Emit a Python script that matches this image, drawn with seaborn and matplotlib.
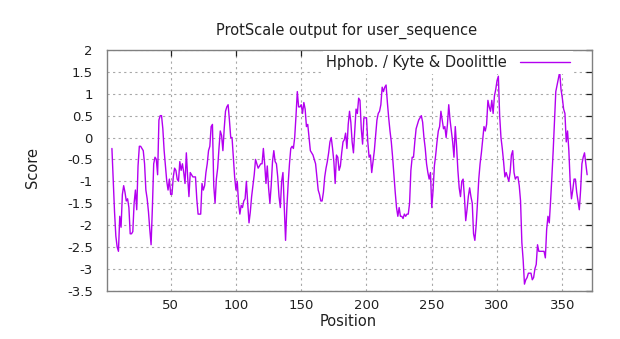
import matplotlib
matplotlib.use("Agg")
import matplotlib.pyplot as plt
import seaborn as sns
import pandas as pd

title = "ProtScale output for user_sequence"
series_label = "Hphob. / Kyte & Doolittle"
x_label = "Position"
y_label = "Score"

positions = list(range(5, 370))
scores = [
    -0.25, -1.0, -1.7, -2.25, -2.5, -2.6, -1.8, -2.05, -1.3, -1.1,
    -1.25, -1.45, -1.4, -1.6, -2.2, -2.2, -2.15, -1.5, -1.2, -1.65,
    -0.65, -0.2, -0.2, -0.25, -0.3, -0.6, -1.2, -1.4, -1.7, -2.1,
    -2.45, -1.6, -0.6, -0.45, -0.5, -0.85, 0.4, 0.5, 0.5, 0.2,
    -0.3, -0.65, -1.0, -1.2, -0.95, -1.3, -1.3, -0.9, -0.7, -0.75,
    -0.95, -1.0, -0.55, -0.75, -0.6, -0.8, -1.05, -0.35, -0.9, -1.35,
    -0.8, -0.85, -0.9, -0.9, -0.9, -1.4, -1.75, -1.75, -1.75, -1.05,
    -1.2, -1.1, -0.8, -0.6, -0.3, -0.2, 0.25, 0.3, -1.1, -1.5,
    -0.95, -0.7, -0.25, 0.15, 0.05, -0.3, 0.2, 0.6, 0.7, 0.75,
    0.4, 0.0, 0.0, -0.45, -0.9, -1.2, -1.0, -1.5, -1.75, -1.55,
    -1.6, -1.45, -1.4, -1.0, -1.5, -1.95, -1.7, -1.35, -1.1, -0.85,
    -0.5, -0.6, -0.7, -0.65, -0.6, -0.6, -0.25, -0.6, -1.05, -0.65,
    -1.15, -1.5, -1.1, -0.55, -0.3, -0.55, -0.6, -0.9, -1.35, -1.6,
    -1.0, -0.8, -1.6, -2.35, -1.6, -1.05, -0.6, -0.25, -0.2, -0.25,
    0.0, 0.5, 1.05, 0.7, 0.7, 0.75, 0.55, 0.8, 0.65, 0.25,
    0.3, 0.0, -0.3, -0.35, -0.4, -0.5, -0.6, -0.9, -1.2, -1.3,
    -1.45, -1.45, -1.25, -0.9, -0.7, -0.55, -0.35, -0.1, 0.0, -0.25,
    -0.55, -1.05, -0.4, -0.45, -0.75, -0.65, -0.35, -0.1, -0.05, 0.1,
    -0.25, 0.3, 0.6, 0.35, -0.1, -0.35, 0.15, 0.65, 0.55, 0.9,
    0.85, 0.2, -0.15, 0.45, 0.45, 0.45, -0.1, -0.45, -0.4, -0.8,
    -0.55, -0.3, 0.05, 0.4, 0.55, 0.6, 0.75, 1.15, 1.05, 1.15,
    1.2, 0.8, 0.45, 0.15, -0.1, -0.45, -0.85, -1.25, -1.6, -1.8,
    -1.6, -1.8, -1.8, -1.85, -1.75, -1.8, -1.75, -1.75, -1.5, -0.75,
    -0.45, -0.45, -0.1, 0.2, 0.3, 0.4, 0.45, 0.5, 0.35, 0.0,
    -0.25, -0.6, -0.8, -0.95, -0.8, -1.6, -1.2, -0.65, -0.4, -0.1,
    0.15, 0.25, 0.6, 0.4, 0.2, 0.25, 0.0, 0.3, 0.75, 0.4,
    0.15, -0.1, -0.45, 0.25, -0.2, -0.75, -1.15, -1.35, -1.0, -0.95,
    -1.35, -1.9, -1.65, -1.35, -1.15, -1.35, -1.5, -2.2, -2.35, -2.0,
    -1.5, -0.95, -0.6, -0.35, -0.05, 0.25, 0.15, 0.3, 0.85, 0.7,
    0.6, 0.85, 0.55, 0.95, 1.1, 1.3, 1.4, 0.5, 0.0, -0.25,
    -0.55, -0.9, -0.8, -0.9, -1.0, -0.8, -0.4, -0.3, -0.8, -0.95,
    -0.9, -0.9, -1.1, -1.45, -2.4, -2.8, -3.35, -3.25, -3.2, -3.1,
    -3.1, -3.1, -3.25, -3.2, -3.0, -2.9, -2.45, -2.6, -2.6, -2.6,
    -2.6, -2.6, -2.75, -2.1, -1.8, -1.95, -1.45, -0.9, -0.3, 0.4,
    1.05, 1.2, 1.35, 1.5, 1.1, 0.9, 0.65, 0.55, -0.1, 0.15,
    -0.3, -1.0, -1.4, -1.2, -0.95, -0.95, -1.25, -1.45, -1.65, -1.2,
    -0.6, -0.45, -0.35, -0.6, -0.85,
]

x_ticks = [50, 100, 150, 200, 250, 300, 350]
x_tick_labels = ["50", "100", "150", "200", "250", "300", "350"]
y_ticks = [-3.5, -3, -2.5, -2, -1.5, -1, -0.5, 0, 0.5, 1, 1.5, 2]
y_tick_labels = ["-3.5", "-3", "-2.5", "-2", "-1.5", "-1", "-0.5", "0", "0.5", "1", "1.5", "2"]

df = pd.DataFrame({"Position": positions, "Score": scores})

sns.set_style("white")
plt.rcParams["font.family"] = ["DejaVu Sans"]
plt.rcParams["axes.unicode_minus"] = False

W, H = 620, 339
fig = plt.figure(figsize=(W / 100, H / 100), dpi=100)
left, right, top, bottom = 106.7, 591.7, 50.0, 290.7
ax = fig.add_axes([left / W, 1 - bottom / H, (right - left) / W, (bottom - top) / H])

line_color = "#b300f0"
sns.lineplot(data=df, x="Position", y="Score", ax=ax, color=line_color,
             linewidth=1.0, label=series_label)

ax.set_xlim(1, 372.5)
ax.set_ylim(-3.5, 2)
ax.set_xticks(x_ticks)
ax.set_xticklabels(x_tick_labels)
ax.set_yticks(y_ticks)
ax.set_yticklabels(y_tick_labels)
ax.set_xlabel("")
ax.set_ylabel("")

ax.grid(True, color="#a8a8a8", linestyle=(0, (2, 3)), linewidth=0.8)
for s in ax.spines.values():
    s.set_color("#808080")
    s.set_linewidth(1.0)
ax.tick_params(direction="in", top=True, right=True, length=4, width=0.9,
               color="#202020", labelsize=9.5, labelcolor="#202020")
ax.tick_params(axis="y", pad=10)
ax.tick_params(axis="x", pad=6)

leg = ax.legend(loc="upper right", bbox_to_anchor=(0.962, 0.994), frameon=True,
                fancybox=False, facecolor="white", edgecolor="none", framealpha=1.0,
                markerfirst=False, fontsize=10.5, borderpad=0.25, borderaxespad=0,
                handlelength=3.4, handletextpad=0.9)
for t in leg.get_texts():
    t.set_color("#202020")

fig.text(347 / W, 1 - 31 / H, title, ha="center", va="center", fontsize=10.5, color="#202020")
fig.text(348 / W, 1 - 321.5 / H, x_label, ha="center", va="center", fontsize=10.5, color="#202020")
fig.text(32 / W, 1 - 168 / H, y_label, ha="center", va="center", rotation=90, fontsize=10.5, color="#202020")

fig.savefig("out.png", dpi=100)
